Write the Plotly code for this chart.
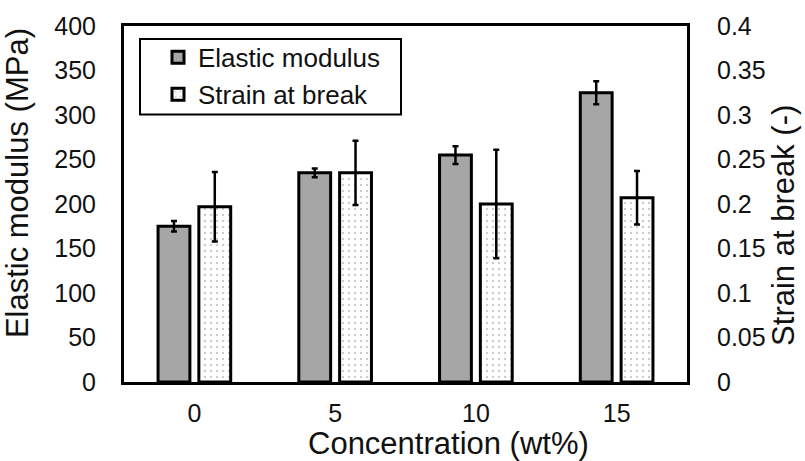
import plotly.graph_objects as go

# ---- data ----
categories = ["0", "5", "10", "15"]
modulus = [175, 235, 255, 325]
modulus_err = [6, 5, 10, 13]
strain = [0.197, 0.235, 0.200, 0.207]
strain_err = [0.039, 0.036, 0.061, 0.030]
y1_ticks = [0, 50, 100, 150, 200, 250, 300, 350, 400]
y2_ticks = [0, 0.05, 0.1, 0.15, 0.2, 0.25, 0.3, 0.35, 0.4]
y2_ticklabels = ["0", "0.05", "0.1", "0.15", "0.2", "0.25", "0.3", "0.35", "0.4"]

FONT = "Liberation Sans, Arial, sans-serif"
TICK = dict(family=FONT, size=25, color="#111")
TITLE = dict(family=FONT, size=31, color="#111")

fig = go.Figure()
fig.add_trace(go.Bar(
    x=categories, y=modulus, name="Elastic modulus",
    marker=dict(color="#a6a6a6", line=dict(color="black", width=3)),
    error_y=dict(type="data", array=modulus_err, color="black", thickness=2.5, width=3),
    offsetgroup="1", legendgroup="a", yaxis="y",
))
fig.add_trace(go.Bar(
    x=categories, y=strain, name="Strain at break",
    marker=dict(color="white", line=dict(color="black", width=3),
                pattern=dict(shape=".", fgcolor="#9a9a9a", bgcolor="white", size=6, solidity=0.14)),
    error_y=dict(type="data", array=strain_err, color="black", thickness=2.5, width=3),
    offsetgroup="2", legendgroup="b", yaxis="y2",
))

W, H = 805, 461
L, R, T, B = 124, 118, 24, 79
pw, ph = W - L - R, H - T - B

def px(x):
    return (x - L) / pw

def py(y):
    return (H - B - y) / ph

fig.update_layout(
    width=W, height=H,
    margin=dict(l=L, r=R, t=T, b=B),
    paper_bgcolor="white", plot_bgcolor="white",
    barmode="group", bargap=0.42, bargroupgap=0.22,
    showlegend=True,
    legend=dict(x=px(158), y=py(32), xanchor="left", yanchor="top",
                font=dict(family=FONT, size=26, color="#111"),
                bgcolor="rgba(0,0,0,0)", borderwidth=0,
                traceorder="grouped", tracegroupgap=0),
    xaxis=dict(type="category", range=[-0.5, 3.5], showgrid=False,
               showline=True, linecolor="black", linewidth=3, mirror=True,
               ticks="", tickfont=TICK, ticklabelstandoff=7),
    yaxis=dict(range=[0, 400], tickvals=y1_ticks, showgrid=False, zeroline=False,
               showline=True, linecolor="black", linewidth=3,
               ticks="", tickfont=TICK, ticklabelstandoff=20),
    yaxis2=dict(range=[0, 0.4], tickvals=y2_ticks, ticktext=y2_ticklabels,
                overlaying="y", side="right", showgrid=False, zeroline=False,
                showline=True, linecolor="black", linewidth=3,
                ticks="", tickfont=TICK, ticklabelstandoff=22),
    shapes=[dict(type="rect", xref="paper", yref="paper",
                 x0=px(140), x1=px(401), y0=py(113), y1=py(37),
                 line=dict(color="black", width=2), fillcolor="rgba(0,0,0,0)")],
    annotations=[
        dict(text="Concentration (wt%)", xref="paper", yref="paper",
             x=px(448), y=py(444), showarrow=False, font=TITLE,
             xanchor="center", yanchor="middle"),
        dict(text="Elastic modulus (MPa)", xref="paper", yref="paper",
             x=px(17), y=py(182), showarrow=False, font=TITLE, textangle=-90,
             xanchor="center", yanchor="middle"),
        dict(text="Strain at break (-)", xref="paper", yref="paper",
             x=px(784), y=py(225), showarrow=False, font=TITLE, textangle=-90,
             xanchor="center", yanchor="middle"),
    ],
)

fig.write_html("out.html")
